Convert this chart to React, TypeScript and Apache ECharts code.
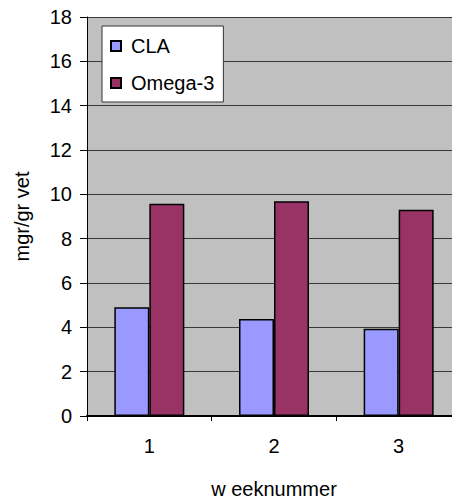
import React, { useEffect, useRef } from "react";
import * as echarts from "echarts";

const categories = ["1", "2", "3"];
const claValues = [4.91, 4.38, 3.94];
const omegaValues = [9.57, 9.69, 9.3];
const yTicks = [0, 2, 4, 6, 8, 10, 12, 14, 16, 18];

export default function App() {
  const ref = useRef<HTMLDivElement>(null);
  useEffect(() => {
    if (!ref.current) return;
    const chart = echarts.init(ref.current, undefined, { renderer: "svg" });
    const font = "'Liberation Sans', Arial, sans-serif";
    chart.setOption({
      animation: false,
      backgroundColor: "#ffffff",
      textStyle: { fontFamily: font },
      grid: { left: 87, top: 17, right: 9, bottom: 84, backgroundColor: "#C0C0C0", show: true, borderWidth: 0 },
      legend: {
        orient: "vertical",
        left: 102,
        top: 26,
        backgroundColor: "#ffffff",
        borderColor: "#333333",
        borderWidth: 1,
        padding: [8, 9, 7, 8],
        itemGap: 13,
        itemWidth: 10,
        itemHeight: 10,
        icon: "rect",
        textStyle: { fontSize: 20, color: "#000", fontFamily: font, padding: [0, 0, 0, 5], lineHeight: 24 },
        data: ["CLA", "Omega-3"],
      },
      xAxis: {
        type: "category",
        data: categories,
        name: "w eeknummer",
        nameLocation: "middle",
        nameGap: 63,
        nameTextStyle: { fontSize: 20, color: "#000", fontFamily: font },
        axisLine: { show: true, lineStyle: { color: "#000", width: 2 } },
        axisTick: { show: true, alignWithLabel: false, length: 5, lineStyle: { color: "#000" } },
        axisLabel: { fontSize: 20, color: "#000", margin: 20, fontFamily: font },
      },
      yAxis: {
        type: "value",
        min: yTicks[0],
        max: yTicks[yTicks.length - 1],
        interval: 2,
        name: "mgr/gr vet",
        nameLocation: "middle",
        nameGap: 55,
        nameTextStyle: { fontSize: 20, color: "#000", fontFamily: font },
        axisLine: { show: true, lineStyle: { color: "#000", width: 1 } },
        axisTick: { show: true, length: 7, lineStyle: { color: "#000" } },
        axisLabel: { fontSize: 20, color: "#000", margin: 15, fontFamily: font },
        splitLine: { show: true, lineStyle: { color: "#3a3a3a", width: 1 } },
      },
      series: [
        {
          name: "CLA",
          type: "bar",
          data: claValues,
          barWidth: 35,
          barGap: "0%",
          itemStyle: { color: "#9999FF", borderColor: "#000", borderWidth: 1.5 },
        },
        {
          name: "Omega-3",
          type: "bar",
          data: omegaValues,
          barWidth: 35,
          barGap: "0%",
          itemStyle: { color: "#993366", borderColor: "#000", borderWidth: 1.5 },
        },
      ],
    });
    return () => chart.dispose();
  }, []);
  return (
    <div style={{ position: "absolute", left: 0, top: 0, width: 452, height: 504, overflow: "hidden", background: "#fff" }}>
      <div ref={ref} style={{ width: 470, height: 504 }} />
    </div>
  );
}
